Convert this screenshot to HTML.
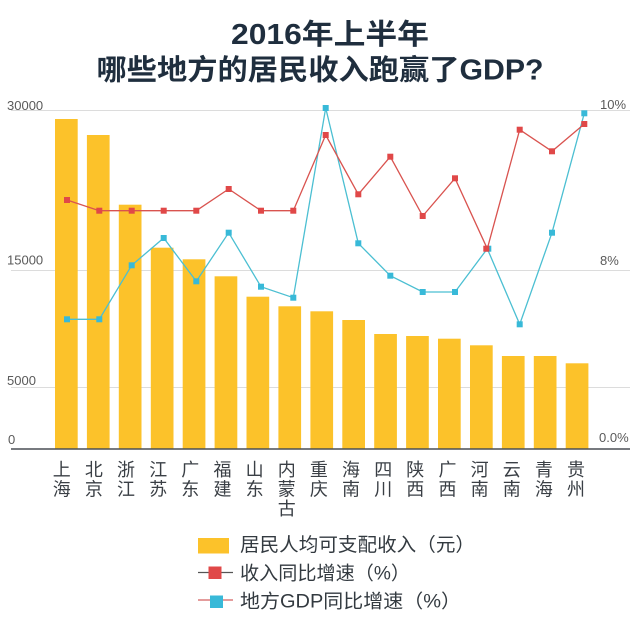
<!DOCTYPE html>
<html><head><meta charset="utf-8"><style>
html,body{margin:0;padding:0;background:#fff;}
svg{display:block;}
</style></head><body>
<svg width="640" height="625" viewBox="0 0 640 625" xmlns="http://www.w3.org/2000/svg">
<rect x="0" y="0" width="640" height="625" fill="#fff"/>
<!-- title -->
<g font-family="Liberation Sans, Noto Sans CJK SC, sans-serif" font-weight="bold" fill="#1f2e3e" font-size="28.5">
<text x="330" y="44" text-anchor="middle" textLength="198" lengthAdjust="spacingAndGlyphs">2016年上半年</text>
<text x="320" y="79.5" text-anchor="middle" textLength="447" lengthAdjust="spacingAndGlyphs">哪些地方的居民收入跑赢了GDP?</text>
</g>
<!-- gridlines -->
<g stroke="#dcdcdc" stroke-width="1">
<line x1="11" y1="110.5" x2="630" y2="110.5"/>
<line x1="11" y1="270.5" x2="630" y2="270.5"/>
<line x1="11" y1="387.5" x2="630" y2="387.5"/>
</g>
<!-- axis labels -->
<g font-family="Liberation Sans, sans-serif" font-size="13" fill="#5a5a5a">
<text x="7" y="110">30000</text>
<text x="7" y="264.5">15000</text>
<text x="7" y="385">5000</text>
<text x="8" y="444">0</text>
<text x="600" y="109">10%</text>
<text x="600" y="265">8%</text>
<text x="599" y="442">0.0%</text>
</g>
<!-- bars -->
<g fill="#fcc22a">
<rect x="55" y="119" width="22.7" height="330"/>
<rect x="86.9" y="135" width="22.7" height="314"/>
<rect x="118.8" y="204.7" width="22.7" height="244.3"/>
<rect x="150.8" y="247.7" width="22.7" height="201.3"/>
<rect x="182.7" y="259.3" width="22.7" height="189.7"/>
<rect x="214.6" y="276.3" width="22.7" height="172.7"/>
<rect x="246.5" y="296.7" width="22.7" height="152.3"/>
<rect x="278.4" y="306.3" width="22.7" height="142.7"/>
<rect x="310.4" y="311.3" width="22.7" height="137.7"/>
<rect x="342.3" y="320" width="22.7" height="129"/>
<rect x="374.2" y="334" width="22.7" height="115"/>
<rect x="406.1" y="336" width="22.7" height="113"/>
<rect x="438" y="338.7" width="22.7" height="110.3"/>
<rect x="470" y="345.3" width="22.7" height="103.7"/>
<rect x="501.9" y="356" width="22.7" height="93"/>
<rect x="533.8" y="356" width="22.7" height="93"/>
<rect x="565.7" y="363.3" width="22.7" height="85.7"/>
</g>
<!-- axis -->
<line x1="11" y1="449" x2="630" y2="449" stroke="#4a4f55" stroke-width="1.6"/>
<!-- cyan series -->
<polyline fill="none" stroke="#4bbfd2" stroke-width="1.3" points="67,319.3 99.3,319.3 131.7,265.3 163.7,238 196.3,281.3 228.7,232.7 261,286.7 293.3,297.7 325.7,108 358.3,243.3 390.3,275.7 422.7,292 455,292 487.3,248.7 519.7,324.3 552,232.7 584.3,113.3"/>
<g fill="#38b9d8">
<rect x="64" y="316.3" width="6" height="6"/>
<rect x="96.3" y="316.3" width="6" height="6"/>
<rect x="128.7" y="262.3" width="6" height="6"/>
<rect x="160.7" y="235" width="6" height="6"/>
<rect x="193.3" y="278.3" width="6" height="6"/>
<rect x="225.7" y="229.7" width="6" height="6"/>
<rect x="258" y="283.7" width="6" height="6"/>
<rect x="290.3" y="294.7" width="6" height="6"/>
<rect x="322.7" y="105" width="6" height="6"/>
<rect x="355.3" y="240.3" width="6" height="6"/>
<rect x="387.3" y="272.7" width="6" height="6"/>
<rect x="419.7" y="289" width="6" height="6"/>
<rect x="452" y="289" width="6" height="6"/>
<rect x="485.3" y="245.7" width="6" height="6"/>
<rect x="516.7" y="321.3" width="6" height="6"/>
<rect x="549" y="229.7" width="6" height="6"/>
<rect x="581.3" y="110.3" width="6" height="6"/>
</g>
<!-- red series -->
<polyline fill="none" stroke="#d9534f" stroke-width="1.3" points="67,200 99.3,210.7 131.7,210.7 163.7,210.7 196.3,210.7 228.7,189 261,210.7 293.3,210.7 325.7,135 358.3,194.3 390.3,156.7 422.7,216 455,178.3 487.3,248.7 519.7,129.7 552,151.3 584.3,124"/>
<g fill="#e04848">
<rect x="64" y="197" width="6" height="6"/>
<rect x="96.3" y="207.7" width="6" height="6"/>
<rect x="128.7" y="207.7" width="6" height="6"/>
<rect x="160.7" y="207.7" width="6" height="6"/>
<rect x="193.3" y="207.7" width="6" height="6"/>
<rect x="225.7" y="186" width="6" height="6"/>
<rect x="258" y="207.7" width="6" height="6"/>
<rect x="290.3" y="207.7" width="6" height="6"/>
<rect x="322.7" y="132" width="6" height="6"/>
<rect x="355.3" y="191.3" width="6" height="6"/>
<rect x="387.3" y="153.7" width="6" height="6"/>
<rect x="419.7" y="213" width="6" height="6"/>
<rect x="452" y="175.3" width="6" height="6"/>
<rect x="483.3" y="245.7" width="6" height="6"/>
<rect x="516.7" y="126.7" width="6" height="6"/>
<rect x="549" y="148.3" width="6" height="6"/>
<rect x="581.3" y="121" width="6" height="6"/>
</g>
<!-- x labels -->
<g font-family="Liberation Sans, Noto Sans CJK SC, sans-serif" font-size="18" fill="#3a3f45" text-anchor="middle">
<text x="61.8" y="476">上</text><text x="61.8" y="495.5">海</text>
<text x="93.9" y="476">北</text><text x="93.9" y="495.5">京</text>
<text x="126" y="476">浙</text><text x="126" y="495.5">江</text>
<text x="158.2" y="476">江</text><text x="158.2" y="495.5">苏</text>
<text x="190.3" y="476">广</text><text x="190.3" y="495.5">东</text>
<text x="222.5" y="476">福</text><text x="222.5" y="495.5">建</text>
<text x="254.6" y="476">山</text><text x="254.6" y="495.5">东</text>
<text x="286.8" y="476">内</text><text x="286.8" y="495.5">蒙</text><text x="286.8" y="515">古</text>
<text x="318.9" y="476">重</text><text x="318.9" y="495.5">庆</text>
<text x="351" y="476">海</text><text x="351" y="495.5">南</text>
<text x="383.2" y="476">四</text><text x="383.2" y="495.5">川</text>
<text x="415.3" y="476">陕</text><text x="415.3" y="495.5">西</text>
<text x="447.5" y="476">广</text><text x="447.5" y="495.5">西</text>
<text x="479.6" y="476">河</text><text x="479.6" y="495.5">南</text>
<text x="511.8" y="476">云</text><text x="511.8" y="495.5">南</text>
<text x="543.9" y="476">青</text><text x="543.9" y="495.5">海</text>
<text x="576" y="476">贵</text><text x="576" y="495.5">州</text>
</g>
<!-- legend -->
<rect x="198" y="538" width="31" height="15.5" fill="#fcc22a"/>
<line x1="198" y1="572.5" x2="233" y2="572.5" stroke="#555" stroke-width="1.3"/>
<rect x="208.5" y="566.5" width="13" height="12.5" fill="#e04848"/>
<line x1="198" y1="600" x2="233" y2="600" stroke="#d46060" stroke-width="1.3"/>
<rect x="210" y="595.5" width="13" height="12.5" fill="#38b9d8"/>
<g font-family="Liberation Sans, Noto Sans CJK SC, sans-serif" font-size="19" fill="#333a40">
<text x="240" y="551" textLength="235" lengthAdjust="spacingAndGlyphs">居民人均可支配收入（元）</text>
<text x="240" y="579.5" textLength="170" lengthAdjust="spacingAndGlyphs">收入同比增速（%）</text>
<text x="240" y="607.5" textLength="221" lengthAdjust="spacingAndGlyphs">地方GDP同比增速（%）</text>
</g>
</svg>
</body></html>
